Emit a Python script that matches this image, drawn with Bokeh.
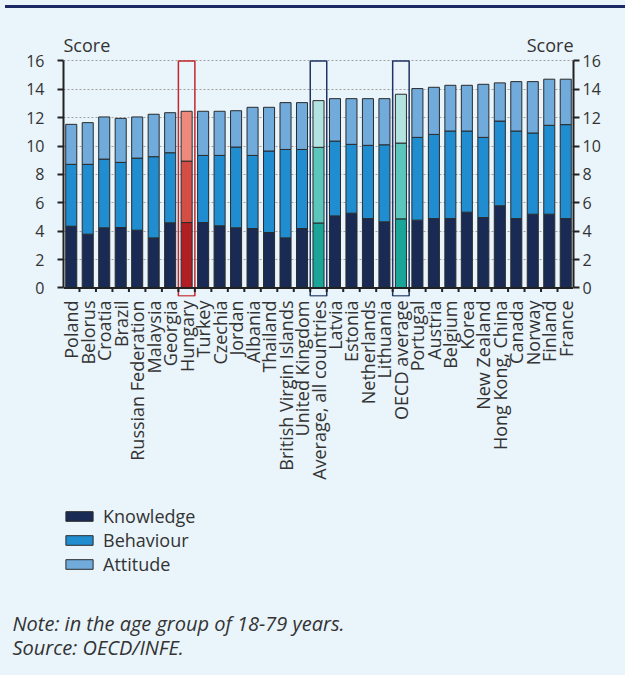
import math
from bokeh.plotting import figure
from bokeh.models import (ColumnDataSource, Range1d, LinearAxis, FixedTicker, Span,
                          Legend, LegendItem, Label, Div)
from bokeh.layouts import column
from bokeh.embed import file_html
from bokeh.resources import INLINE
from bokeh.core.properties import field

# ---------------- data ----------------
countries = ["Poland", "Belorus", "Croatia", "Brazil", "Russian Federation", "Malaysia",
             "Georgia", "Hungary", "Turkey", "Czechia", "Jordan", "Albania", "Thailand",
             "British Virgin Islands", "United Kingdom", "Average, all countries", "Latvia",
             "Estonia", "Netherlands", "Lithuania", "OECD average", "Portugal", "Austria",
             "Belgium", "Korea", "New Zealand", "Hong Kong, China", "Canada", "Norway",
             "Finland", "France"]
knowledge = [4.35, 3.79, 4.24, 4.26, 4.07, 3.53, 4.59, 4.61, 4.61, 4.38, 4.24, 4.19, 3.91,
             3.53, 4.19, 4.58, 5.08, 5.27, 4.89, 4.66, 4.87, 4.78, 4.89, 4.89, 5.34, 4.96,
             5.79, 4.89, 5.20, 5.20, 4.89]
behaviour = [4.36, 4.92, 4.84, 4.59, 5.08, 5.72, 4.94, 4.33, 4.73, 4.96, 5.69, 5.15, 5.74,
             6.23, 5.57, 5.33, 5.27, 4.85, 5.16, 5.43, 5.34, 5.83, 5.93, 6.17, 5.72, 5.65,
             5.97, 6.17, 5.72, 6.26, 6.62]
attitude = [2.82, 2.94, 2.97, 3.10, 2.90, 2.99, 2.82, 3.51, 3.11, 3.11, 2.56, 3.39, 3.08,
            3.30, 3.30, 3.29, 2.99, 3.22, 3.29, 3.25, 3.44, 3.44, 3.32, 3.22, 3.22, 3.74,
            2.69, 3.48, 3.62, 3.25, 3.20]
series = ["Knowledge", "Behaviour", "Attitude"]
highlight_red = ["Hungary"]
highlight_avg = ["Average, all countries", "OECD average"]
y_ticks = [0, 2, 4, 6, 8, 10, 12, 14, 16]
axis_title = "Score"
note_text = "Note: in the age group of 18-79 years."
source_text = "Source: OECD/INFE."

# ---------------- styles ----------------
BG = "#E9F4FB"
TXT = "#333333"
AX = "#222222"
FONT = "Open Sans"
pal_normal = ["#192B54", "#1F8DCF", "#70ABDB"]
pal_red = ["#B01F24", "#D44E45", "#EE8A7D"]
pal_avg = ["#1AA598", "#5CC6BD", "#B3E3E1"]
box_red = "#C0282D"
box_navy = "#1F3564"
W = 621

n = len(countries)
xs = list(range(n))
cols = {"x": xs, "Knowledge": knowledge, "Behaviour": behaviour, "Attitude": attitude}
for j, s in enumerate(series):
    c = []
    for name in countries:
        if name in highlight_red:
            c.append(pal_red[j])
        elif name in highlight_avg:
            c.append(pal_avg[j])
        else:
            c.append(pal_normal[j])
    cols["c_" + s] = c
src = ColumnDataSource(cols)

x0, x1 = -0.47, n - 1 + 0.47
y0, y1 = -0.6, 18.0

p = figure(width=W, height=473, x_range=Range1d(x0, x1), y_range=Range1d(y0, y1),
           output_backend="svg", toolbar_location=None,
           min_border_left=63, min_border_right=W - 573, min_border_top=19,
           min_border_bottom=190)
p.background_fill_color = BG
p.border_fill_color = BG
p.outline_line_color = None

# grid
p.xgrid.visible = False
p.ygrid.ticker = FixedTicker(ticks=y_ticks)
p.ygrid.grid_line_color = "#A0A0A0"
p.ygrid.grid_line_dash = "2 2"
p.ygrid.grid_line_width = 1

# bars
rends = p.vbar_stack(series, x="x", width=0.67, source=src,
                     fill_color=[field("c_" + s) for s in series],
                     line_color="#2B2B2B", line_width=1)

# highlight boxes
for name in countries:
    if name in highlight_red or name in highlight_avg:
        i = countries.index(name)
        p.quad(left=i - 0.5, right=i + 0.5, bottom=-0.56, top=y_ticks[-1],
               fill_color=None,
               line_color=box_red if name in highlight_red else box_navy,
               line_width=1.5)

# x axis line at zero and category boundary ticks
p.add_layout(Span(location=0, dimension="width", line_color=AX, line_width=2))
bx = [i + 0.5 for i in range(n - 1)]
p.segment(x0=bx, x1=bx, y0=[0] * len(bx), y1=[-0.28] * len(bx), line_color=AX, line_width=2)

# x axis labels
xa = p.xaxis[0]
xa.ticker = FixedTicker(ticks=xs)
xa.major_label_overrides = {i: c for i, c in enumerate(countries)}
xa.major_label_orientation = math.pi / 2
xa.axis_line_color = None
xa.major_tick_line_color = None
xa.minor_tick_line_color = None
xa.major_tick_out = 0
xa.major_label_standoff = 4
xa.major_label_text_font = FONT
xa.major_label_text_font_size = "18px"
xa.major_label_text_color = TXT

# y axes
def style_y(ax, standoff):
    ax.ticker = FixedTicker(ticks=y_ticks)
    ax.bounds = (y_ticks[0], y_ticks[-1])
    ax.axis_line_color = AX
    ax.axis_line_width = 2
    ax.major_tick_line_color = AX
    ax.major_tick_line_width = 2
    ax.major_tick_out = 6
    ax.major_tick_in = 0
    ax.minor_tick_line_color = None
    ax.major_label_standoff = standoff
    ax.major_label_text_font = FONT
    ax.major_label_text_font_size = "16px"
    ax.major_label_text_color = TXT

style_y(p.yaxis[0], 13)
ry = LinearAxis()
p.add_layout(ry, "right")
style_y(ry, 3)

# Score labels (inside the frame, above the top tick)
for xpos, al in [(x0, "left"), (x1, "right")]:
    p.add_layout(Label(x=xpos, y=y_ticks[-1], y_offset=16, text=axis_title, text_align=al,
                       text_baseline="alphabetic", text_font=FONT, text_font_size="18px",
                       text_color=TXT))

# ---------------- footer: legend + notes ----------------
H2 = 189
f = figure(width=W, height=H2, x_range=Range1d(0, W), y_range=Range1d(H2, 0),
           output_backend="svg", toolbar_location=None,
           x_axis_location=None, y_axis_location=None,
           min_border_left=0, min_border_right=0, min_border_top=0, min_border_bottom=0)
try:
    f.frame_align = False
except Exception:
    pass
f.grid.visible = False
f.background_fill_color = BG
f.border_fill_color = BG
f.outline_line_color = None

# legend keys: renderers with no drawable point (NaN), only used for the key swatches
key_src = ColumnDataSource({"x": [float("nan")], "top": [float("nan")]})
key_rends = [f.vbar(x="x", top="top", width=1, source=key_src, fill_color=pal_normal[j],
                    line_color="#2B2B2B", line_width=1) for j in range(len(series))]
items = [LegendItem(label=s, renderers=[r]) for s, r in zip(series, key_rends)]
legend = Legend(items=items, location=(62, 99), orientation="vertical",
                background_fill_alpha=0, border_line_color=None, padding=0, margin=0,
                spacing=0, glyph_width=34, glyph_height=12, label_height=24,
                label_standoff=7, label_text_font=FONT, label_text_font_size="18px",
                label_text_color=TXT)
f.add_layout(legend)

for t, yb in [(note_text, 136.5), (source_text, 160.5)]:
    f.add_layout(Label(x=12, y=yb, text=t, text_font=FONT, text_font_style="italic",
                       text_font_size="20px", text_color=TXT, text_baseline="alphabetic"))

top_rule = Div(width=W, height=3, styles={"background-color": "#1C2A64"})

layout = column(top_rule, p, f, spacing=0, styles={"background-color": BG})
open("out.html", "w").write(file_html(layout, INLINE))
